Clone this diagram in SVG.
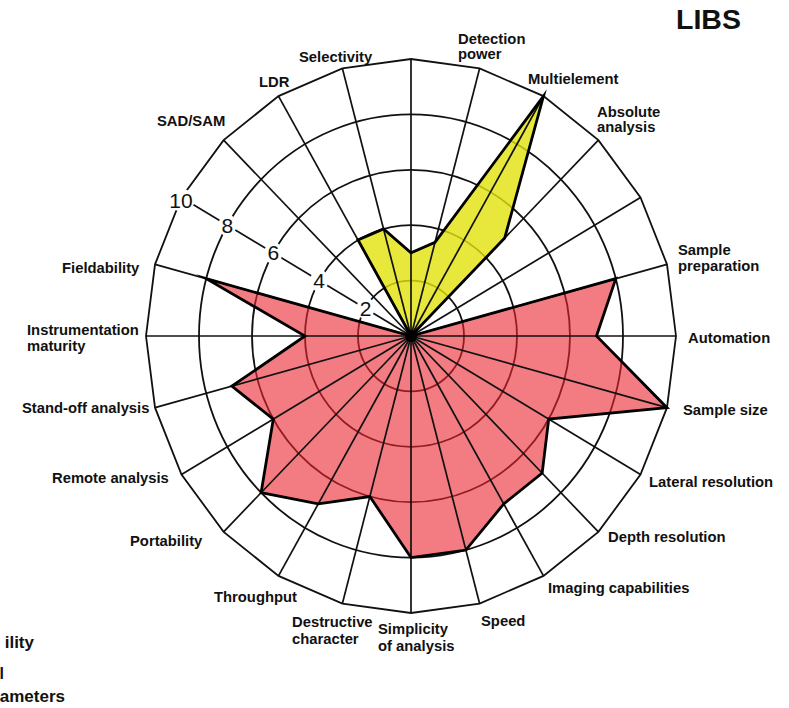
<svg xmlns="http://www.w3.org/2000/svg" width="789" height="708" viewBox="0 0 789 708">
<style>
.lbl{font-family:"Liberation Sans",Arial,sans-serif;font-weight:bold;font-size:14.8px;fill:#111}
.num{font-family:"Liberation Sans",Arial,sans-serif;font-size:21px;fill:#111;text-anchor:middle}
.ring{fill:none;stroke:#111;stroke-width:1.8}
.spoke{stroke:#111;stroke-width:1.7}
.outline{fill:none;stroke:#000;stroke-width:2.8;stroke-linejoin:miter;stroke-miterlimit:20}
</style>
<rect width="789" height="708" fill="#fff"/>
<g id="rings">
<ellipse class="ring" cx="411" cy="336" rx="53" ry="55.4"/>
<ellipse class="ring" cx="411" cy="336" rx="106" ry="110.8"/>
<ellipse class="ring" cx="411" cy="336" rx="159" ry="166.2"/>
<ellipse class="ring" cx="411" cy="336" rx="212" ry="221.6"/>
<polygon class="ring" points="676,336 666.97,264.31 640.5,197.5 598.38,140.13 543.5,96.11 479.59,68.44 411,59 342.41,68.44 278.5,96.11 223.62,140.13 181.5,197.5 155.03,264.31 146,336 155.03,407.69 181.5,474.5 223.62,531.87 278.5,575.89 342.41,603.56 411,613 479.59,603.56 543.5,575.89 598.38,531.87 640.5,474.5 666.97,407.69"/>
</g>
<g id="fills">
<polygon fill="#e9252f" fill-opacity="0.6" points="615.78,278.65 596.5,336 666.97,407.69 548.7,419.1 542.17,473.11 503.75,503.92 465.87,550.05 411,557.6 369.85,496.54 318.25,503.92 261.1,492.7 273.3,419.1 231.82,386.18 305,336 206.22,278.65 411,336"/>
<polygon fill="#e2e20b" fill-opacity="0.8" points="411,336 358,240.04 383.56,228.98 411,252.9 435.01,242.35 543.5,96.11 504.69,238.06"/>
</g>
<g id="spokes">
<line class="spoke" x1="411" y1="336" x2="676" y2="336"/>
<line class="spoke" x1="411" y1="336" x2="666.97" y2="264.31"/>
<line class="spoke" x1="411" y1="336" x2="640.5" y2="197.5"/>
<line class="spoke" x1="411" y1="336" x2="598.38" y2="140.13"/>
<line class="spoke" x1="411" y1="336" x2="543.5" y2="96.11"/>
<line class="spoke" x1="411" y1="336" x2="479.59" y2="68.44"/>
<line class="spoke" x1="411" y1="336" x2="411" y2="59"/>
<line class="spoke" x1="411" y1="336" x2="342.41" y2="68.44"/>
<line class="spoke" x1="411" y1="336" x2="278.5" y2="96.11"/>
<line class="spoke" x1="411" y1="336" x2="223.62" y2="140.13"/>
<line class="spoke" x1="411" y1="336" x2="181.5" y2="197.5"/>
<line class="spoke" x1="411" y1="336" x2="155.03" y2="264.31"/>
<line class="spoke" x1="411" y1="336" x2="146" y2="336"/>
<line class="spoke" x1="411" y1="336" x2="155.03" y2="407.69"/>
<line class="spoke" x1="411" y1="336" x2="181.5" y2="474.5"/>
<line class="spoke" x1="411" y1="336" x2="223.62" y2="531.87"/>
<line class="spoke" x1="411" y1="336" x2="278.5" y2="575.89"/>
<line class="spoke" x1="411" y1="336" x2="342.41" y2="603.56"/>
<line class="spoke" x1="411" y1="336" x2="411" y2="613"/>
<line class="spoke" x1="411" y1="336" x2="479.59" y2="603.56"/>
<line class="spoke" x1="411" y1="336" x2="543.5" y2="575.89"/>
<line class="spoke" x1="411" y1="336" x2="598.38" y2="531.87"/>
<line class="spoke" x1="411" y1="336" x2="640.5" y2="474.5"/>
<line class="spoke" x1="411" y1="336" x2="666.97" y2="407.69"/>
</g>
<g id="scale">
<ellipse cx="181" cy="200" rx="14" ry="11" fill="#fff"/>
<ellipse cx="227.4" cy="225.2" rx="9" ry="11" fill="#fff"/>
<ellipse cx="273.3" cy="252.9" rx="9" ry="11" fill="#fff"/>
<ellipse cx="319.2" cy="280.6" rx="9" ry="11" fill="#fff"/>
<ellipse cx="365.6" cy="308.3" rx="9" ry="11" fill="#fff"/>
<text class="num" x="181" y="207.5">10</text>
<text class="num" x="227.4" y="232.7">8</text>
<text class="num" x="273.3" y="260.4">6</text>
<text class="num" x="319.2" y="288.1">4</text>
<text class="num" x="365.6" y="315.8">2</text>
</g>
<g id="outlines">
<polygon class="outline" points="615.78,278.65 596.5,336 666.97,407.69 548.7,419.1 542.17,473.11 503.75,503.92 465.87,550.05 411,557.6 369.85,496.54 318.25,503.92 261.1,492.7 273.3,419.1 231.82,386.18 305,336 206.22,278.65 411,336"/>
<polygon class="outline" points="411,336 358,240.04 383.56,228.98 411,252.9 435.01,242.35 543.5,96.11 504.69,238.06"/>
<circle cx="411" cy="336" r="6" fill="#000"/>
</g>
<g id="labels">
<text class="lbl" x="676" y="29" style="font-size:28.5px">LIBS</text>
<text class="lbl" x="458" y="44">Detection</text>
<text class="lbl" x="458" y="59">power</text>
<text class="lbl" x="528" y="84">Multielement</text>
<text class="lbl" x="597" y="117">Absolute</text>
<text class="lbl" x="597" y="132">analysis</text>
<text class="lbl" x="678" y="255">Sample</text>
<text class="lbl" x="678" y="271">preparation</text>
<text class="lbl" x="688" y="343">Automation</text>
<text class="lbl" x="683" y="415">Sample size</text>
<text class="lbl" x="649" y="487">Lateral resolution</text>
<text class="lbl" x="608" y="542">Depth resolution</text>
<text class="lbl" x="548" y="593">Imaging capabilities</text>
<text class="lbl" x="481" y="626">Speed</text>
<text class="lbl" x="378" y="634">Simplicity</text>
<text class="lbl" x="378" y="651">of analysis</text>
<text class="lbl" x="292" y="627">Destructive</text>
<text class="lbl" x="292" y="644">character</text>
<text class="lbl" x="214" y="602">Throughput</text>
<text class="lbl" x="130" y="546">Portability</text>
<text class="lbl" x="52" y="483">Remote analysis</text>
<text class="lbl" x="22" y="413">Stand-off analysis</text>
<text class="lbl" x="27" y="335">Instrumentation</text>
<text class="lbl" x="27" y="351">maturity</text>
<text class="lbl" x="62" y="273">Fieldability</text>
<text class="lbl" x="157" y="126">SAD/SAM</text>
<text class="lbl" x="259" y="87">LDR</text>
<text class="lbl" x="299" y="62">Selectivity</text>
<text class="lbl" x="34" y="648" text-anchor="end" style="font-size:17px">ility</text>
<text class="lbl" x="-0.5" y="679" style="font-size:16px">l</text>
<text class="lbl" x="65" y="702" text-anchor="end" style="font-size:17px">ameters</text>
</g>
</svg>
